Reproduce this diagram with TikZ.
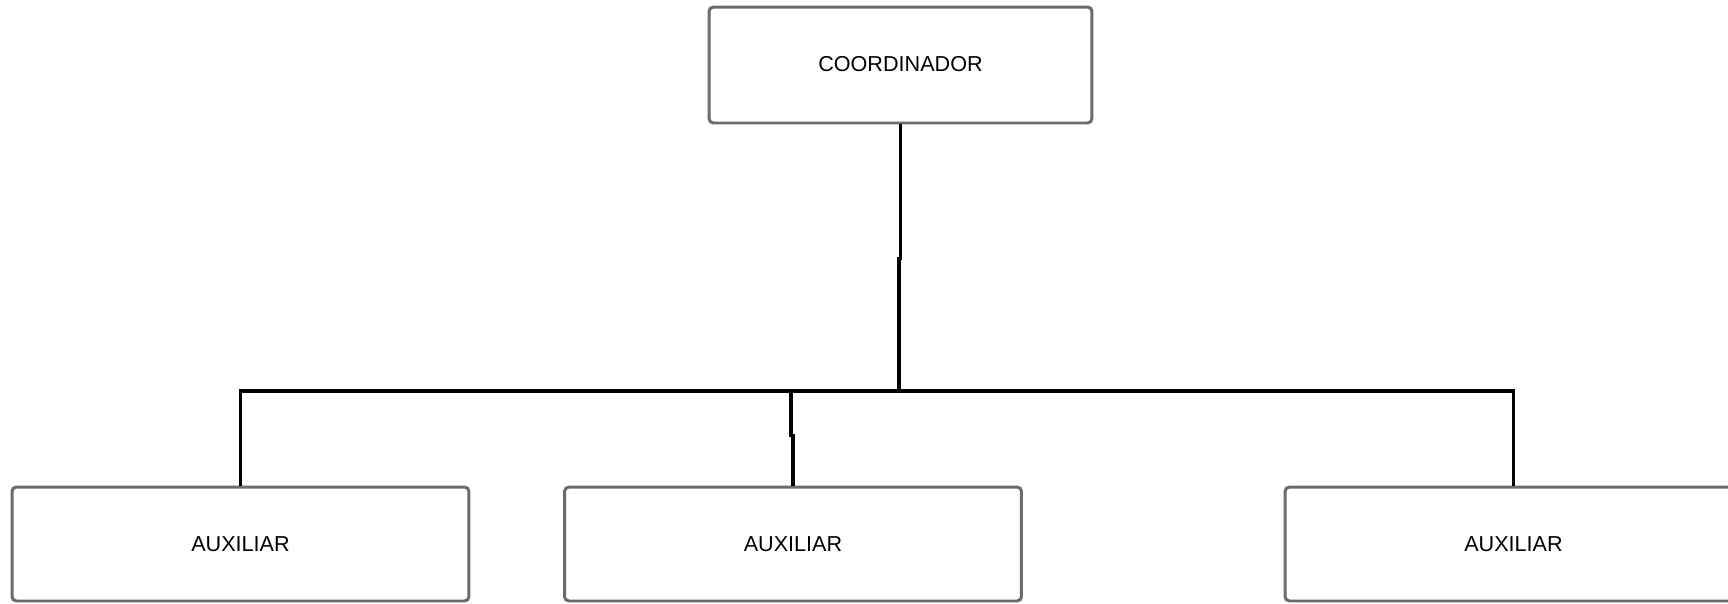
\documentclass[tikz,border=0pt]{standalone}
\usepackage{fontspec}
\setmainfont{Liberation Sans}
\begin{document}
\begin{tikzpicture}[x=0.02cm,y=-0.02cm,
    box/.style={draw=black!58,line width=1.7pt,rounded corners=2.5pt,fill=white,
      font=\fontsize{12.3}{14}\selectfont},
    top/.style={box,minimum width=7.66cm,minimum height=2.32cm},
    aux/.style={box,minimum width=9.14cm,minimum height=2.28cm},
    link/.style={draw=black,line width=2.1pt}]
  \clip (0,0) rectangle (1728,603);
  \node[top] (coord) at (900.5,65) {\raisebox{1.5pt}{COORDINADOR}};
  \node[aux] (aux1) at (240.5,544) {AUXILIAR};
  \node[aux] (aux2) at (793,544) {AUXILIAR};
  \node[aux] (aux3) at (1513.5,544) {AUXILIAR};
  \coordinate (bus) at (899,391);
  \draw[link] (coord.south) -- ++(0,134) -| (bus);
  \draw[link] (aux1.north) |- (aux3.north |- bus) -- (aux3.north);
  \draw[link] (aux2.north) -- ++(0,-50) -- ++(-2,0) |- (bus);
\end{tikzpicture}
\end{document}
